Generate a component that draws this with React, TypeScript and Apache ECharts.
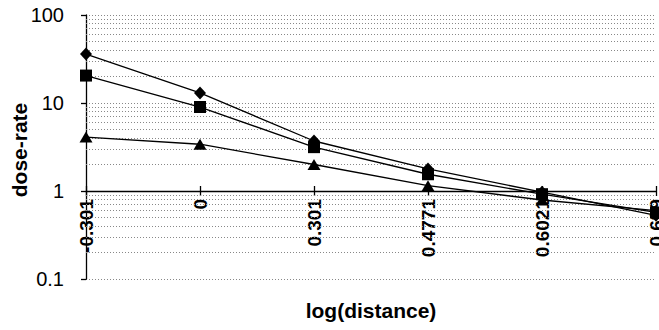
import React, { useEffect, useRef } from "react";
import * as echarts from "echarts";

const categories = ["-0.301", "0", "0.301", "0.4771", "0.6021", "0.699"];
const diamondValues = [36, 13, 3.7, 1.78, 0.97, 0.53];
const squareValues = [20.5, 9, 3.15, 1.55, 0.92, 0.57];
const triangleValues = [4.1, 3.4, 2.0, 1.15, 0.79, 0.6];
const minorGridValues = [
  0.2, 0.3, 0.4, 0.5, 0.6, 0.7, 0.8, 0.9,
  2, 3, 4, 5, 6, 7, 8, 9,
  20, 30, 40, 50, 60, 70, 80, 90,
];
const yAxisTitle = "dose-rate";
const xAxisTitle = "log(distance)";

const FONT = "'Liberation Sans', Arial, sans-serif";

export default function App() {
  const ref = useRef<HTMLDivElement>(null);
  useEffect(() => {
    if (!ref.current) return;
    const chart = echarts.init(ref.current, null, { renderer: "svg" });
    const gridTop = 15;
    const gridBottom = 51;
    const gridHeight = 330 - gridTop - gridBottom;
    const axisOffset = -(gridHeight / 3); // x axis crosses at y = 1

    const lineSeries = (name: string, data: number[], symbol: string, size: number | number[]) => ({
      name,
      type: "line",
      data,
      symbol,
      symbolSize: size,
      showAllSymbol: true,
      lineStyle: { color: "#000", width: 1.3 },
      itemStyle: { color: "#000" },
      z: 5,
    });

    chart.setOption({
      animation: false,
      backgroundColor: "#fff",
      grid: {
        left: 86,
        right: 3,
        top: gridTop,
        bottom: gridBottom,
        containLabel: false,
        outerBoundsMode: "none",
      },
      graphic: [
        {
          type: "text",
          x: 19,
          y: 150,
          rotation: Math.PI / 2,
          style: {
            text: yAxisTitle,
            fill: "#000",
            font: `bold 21px ${FONT}`,
            textAlign: "center",
            textVerticalAlign: "middle",
          },
        },
      ],
      xAxis: [
        {
          type: "category",
          data: categories,
          boundaryGap: false,
          position: "bottom",
          offset: axisOffset,
          axisLine: { show: true, onZero: false, lineStyle: { color: "#000", width: 1.3 } },
          axisTick: { show: true, length: 5, alignWithLabel: true, lineStyle: { color: "#000", width: 1.3 } },
          axisLabel: {
            show: true,
            rotate: 90,
            margin: 8,
            color: "#000",
            fontSize: 19,
            fontWeight: "bold",
            fontFamily: FONT,
            showMinLabel: true,
            showMaxLabel: true,
            interval: 0,
            hideOverlap: false,
          },
          splitLine: { show: false },
          name: xAxisTitle,
          nameLocation: "middle",
          nameGap: 109,
          nameTextStyle: { color: "#000", fontSize: 21, fontWeight: "bold", fontFamily: FONT },
        },
        {
          type: "category",
          data: categories,
          boundaryGap: false,
          position: "bottom",
          offset: axisOffset,
          axisLine: { show: false, onZero: false },
          axisTick: { show: true, inside: true, length: 5, lineStyle: { color: "#000", width: 1.3 } },
          axisLabel: { show: false },
          splitLine: { show: false },
        },
      ],
      yAxis: {
        type: "log",
        logBase: 10,
        min: 0.1,
        max: 100,
        axisLine: { show: true, lineStyle: { color: "#000", width: 1.3 } },
        axisTick: { show: true, length: 5, lineStyle: { color: "#000", width: 1.3 } },
        axisLabel: {
          color: "#000",
          fontSize: 20,
          fontFamily: FONT,
          margin: 22,
          formatter: (v: number) => String(Number(v.toPrecision(3))),
        },
        splitLine: { show: true, lineStyle: { color: "#888", type: [1, 2], width: 1 } },
      },
      series: [
        {
          ...lineSeries("diamond", diamondValues, "diamond", [12, 13]),
          markLine: {
            silent: true,
            symbol: "none",
            label: { show: false },
            lineStyle: { color: "#888", type: [1, 2], width: 1 },
            data: minorGridValues.map((v) => ({ yAxis: v })),
            z: 1,
          },
        },
        lineSeries("square", squareValues, "rect", 12),
        lineSeries("triangle", triangleValues, "triangle", [13, 11]),
      ],
    });
    return () => chart.dispose();
  }, []);
  return <div ref={ref} style={{ width: 659, height: 330, position: "absolute", left: 0, top: 0 }} />;
}
